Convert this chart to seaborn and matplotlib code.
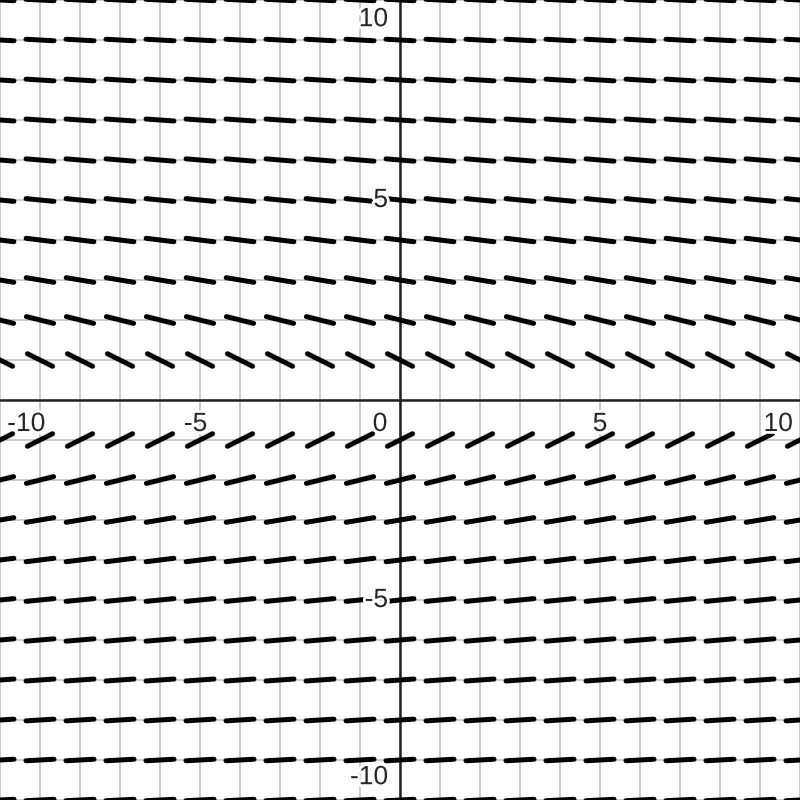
import numpy as np
import pandas as pd
import seaborn as sns
import matplotlib.pyplot as plt
import matplotlib.patheffects as pe

# slope field: one slope per row (y), same along x
xs = list(range(-10, 11))
ys = [-10, -9, -8, -7, -6, -5, -4, -3, -2, -1, 1, 2, 3, 4, 5, 6, 7, 8, 9, 10]
slopes = [0.05, 0.056, 0.062, 0.071, 0.083, 0.1, 0.125, 0.167, 0.25, 0.5,
          -0.5, -0.25, -0.167, -0.125, -0.1, -0.083, -0.071, -0.062, -0.056, -0.05]
seg_len = 0.7

# tick labels
xtick_labels = ["-10", "-5", "0", "5", "10"]
ytick_labels = ["10", "5", "-5", "-10"]

rows = []
k = 0
for y, m in zip(ys, slopes):
    dx = seg_len / 2 / np.sqrt(1 + m * m)
    for x in xs:
        rows.append((k, x - dx, y - m * dx))
        rows.append((k, x + dx, y + m * dx))
        k += 1
df = pd.DataFrame(rows, columns=["seg", "x", "y"])

sns.set_style("white")
plt.rcParams["font.family"] = ["Liberation Sans", "DejaVu Sans"]

fig = plt.figure(figsize=(8, 8), dpi=100)
ax = fig.add_axes([0, 0, 1, 1])
ax.set_xlim(-10, 10)
ax.set_ylim(-10, 10)

# grid every unit
for v in range(-10, 11):
    ax.axvline(v, color="#c8c8c8", lw=1.3, zorder=0)
    ax.axhline(v, color="#c8c8c8", lw=1.3, zorder=0)
ax.axvline(0, color="#222222", lw=1.8, zorder=1)
ax.axhline(0, color="#222222", lw=1.8, zorder=1)

sns.lineplot(data=df, x="x", y="y", units="seg", estimator=None, color="black",
             lw=3.6, solid_capstyle="round", legend=False, ax=ax, zorder=2)

ax.set_xticks([])
ax.set_yticks([])
ax.set_xlabel("")
ax.set_ylabel("")
for s in ax.spines.values():
    s.set_visible(False)

halo = [pe.withStroke(linewidth=4, foreground="white")]
fs = 19
xpos = [(-9.82, "left"), (-4.82, "right"), (-0.5, "center"), (5.0, "center"), (9.82, "right")]
for lab, (xp, ha) in zip(xtick_labels, xpos):
    ax.text(xp, -0.3, lab, ha=ha, va="top", fontsize=fs, path_effects=halo, zorder=5)
ypos = [9.52, 5.0, -5.0, -9.43]
for lab, yp in zip(ytick_labels, ypos):
    ax.text(-0.3, yp, lab, ha="right", va="center", fontsize=fs, path_effects=halo, zorder=5)

fig.savefig("out.png", dpi=100)
